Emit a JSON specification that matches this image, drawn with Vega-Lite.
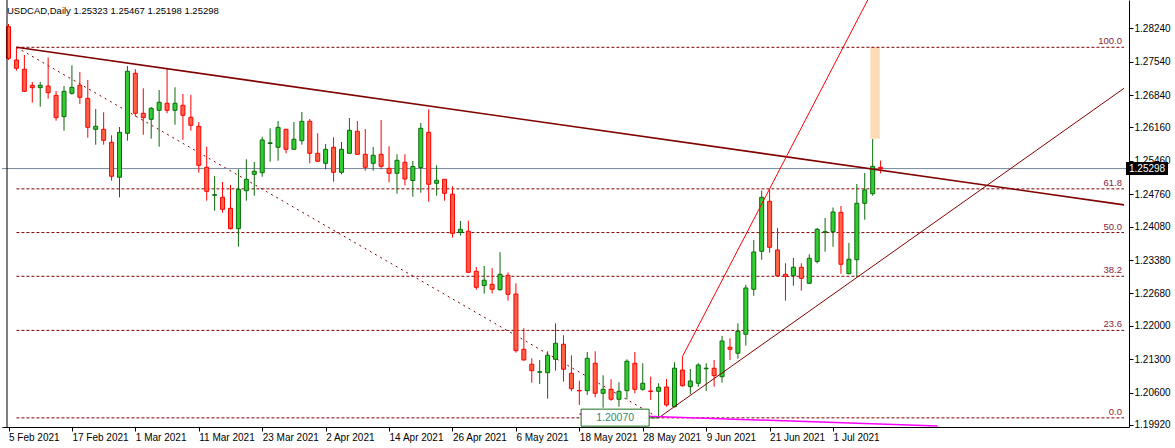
{
"$schema": "https://vega.github.io/schema/vega-lite/v6.json",
"width": 1127, "height": 427,
"autosize": {"type": "none"},
"padding": {"left": 2, "top": 0, "right": 46, "bottom": 21},
"background": "white",
"config": {"view": {"stroke": null}, "axis": {"labelFont": "Liberation Sans", "labelFontSize": 10, "labelColor": "black", "domainColor": "black", "tickColor": "black", "grid": false, "title": null, "labelOverlap": false}},
"title": {"text": "USDCAD,Daily  1.25323 1.25467 1.25198 1.25298", "anchor": "start", "frame": "group", "orient": "top", "offset": -24, "baseline": "alphabetic", "font": "Liberation Sans", "fontSize": 9.5, "fontWeight": "normal", "color": "black", "dx": 5},
"datasets": {
"candles": [
{"i":0,"o":1.28274,"h":1.28331,"l":1.27576,"c":1.27611},
{"i":1,"o":1.27576,"h":1.27842,"l":1.27351,"c":1.27402},
{"i":2,"o":1.27381,"h":1.27681,"l":1.26910,"c":1.26919},
{"i":3,"o":1.27045,"h":1.27114,"l":1.26680,"c":1.26995},
{"i":4,"o":1.26995,"h":1.27114,"l":1.26596,"c":1.27045},
{"i":5,"o":1.27030,"h":1.27632,"l":1.26764,"c":1.26890},
{"i":6,"o":1.26835,"h":1.26926,"l":1.26303,"c":1.26366},
{"i":7,"o":1.26387,"h":1.27030,"l":1.26093,"c":1.26919},
{"i":8,"o":1.26877,"h":1.27464,"l":1.26848,"c":1.27003},
{"i":9,"o":1.27045,"h":1.27324,"l":1.26653,"c":1.26793},
{"i":10,"o":1.26772,"h":1.27156,"l":1.25946,"c":1.26164},
{"i":11,"o":1.26122,"h":1.26548,"l":1.25799,"c":1.26185},
{"i":12,"o":1.26122,"h":1.26479,"l":1.25799,"c":1.25892},
{"i":13,"o":1.25850,"h":1.25996,"l":1.25044,"c":1.25137},
{"i":14,"o":1.25116,"h":1.26170,"l":1.24696,"c":1.26059},
{"i":15,"o":1.26038,"h":1.27450,"l":1.25883,"c":1.27339},
{"i":16,"o":1.27297,"h":1.27381,"l":1.26387,"c":1.26458},
{"i":17,"o":1.26458,"h":1.26982,"l":1.26009,"c":1.26366},
{"i":18,"o":1.26332,"h":1.26584,"l":1.25925,"c":1.26563},
{"i":19,"o":1.26521,"h":1.26946,"l":1.25757,"c":1.26689},
{"i":20,"o":1.26668,"h":1.27387,"l":1.26458,"c":1.26521},
{"i":21,"o":1.26521,"h":1.27003,"l":1.26219,"c":1.26668},
{"i":22,"o":1.26626,"h":1.26863,"l":1.25904,"c":1.26416},
{"i":23,"o":1.26374,"h":1.26842,"l":1.26093,"c":1.26206},
{"i":24,"o":1.26185,"h":1.26275,"l":1.25212,"c":1.25367},
{"i":25,"o":1.25325,"h":1.25757,"l":1.24625,"c":1.24822},
{"i":26,"o":1.24738,"h":1.25143,"l":1.24415,"c":1.24751},
{"i":27,"o":1.24696,"h":1.25017,"l":1.24373,"c":1.24444},
{"i":28,"o":1.24465,"h":1.24954,"l":1.24020,"c":1.24038},
{"i":29,"o":1.24038,"h":1.25283,"l":1.23660,"c":1.24864},
{"i":30,"o":1.24834,"h":1.25493,"l":1.24625,"c":1.25074},
{"i":31,"o":1.25178,"h":1.25436,"l":1.24730,"c":1.25241},
{"i":32,"o":1.25212,"h":1.25967,"l":1.25128,"c":1.25898},
{"i":33,"o":1.25824,"h":1.26143,"l":1.25443,"c":1.25839},
{"i":34,"o":1.25745,"h":1.26296,"l":1.25464,"c":1.26164},
{"i":35,"o":1.26122,"h":1.26130,"l":1.25619,"c":1.25703},
{"i":36,"o":1.25703,"h":1.26275,"l":1.25690,"c":1.25913},
{"i":37,"o":1.25883,"h":1.26485,"l":1.25799,"c":1.26290},
{"i":38,"o":1.26290,"h":1.26338,"l":1.25409,"c":1.25619},
{"i":39,"o":1.25619,"h":1.26038,"l":1.25440,"c":1.25451},
{"i":40,"o":1.25409,"h":1.25814,"l":1.25283,"c":1.25703},
{"i":41,"o":1.25745,"h":1.25954,"l":1.25023,"c":1.25220},
{"i":42,"o":1.25220,"h":1.25856,"l":1.25178,"c":1.25703},
{"i":43,"o":1.25619,"h":1.26359,"l":1.25610,"c":1.26101},
{"i":44,"o":1.26080,"h":1.26296,"l":1.25590,"c":1.25598},
{"i":45,"o":1.25598,"h":1.26129,"l":1.25254,"c":1.25325},
{"i":46,"o":1.25409,"h":1.25751,"l":1.25254,"c":1.25577},
{"i":47,"o":1.25598,"h":1.26317,"l":1.25283,"c":1.25346},
{"i":48,"o":1.25304,"h":1.25766,"l":1.25011,"c":1.25199},
{"i":49,"o":1.25199,"h":1.25598,"l":1.24772,"c":1.25472},
{"i":50,"o":1.25430,"h":1.25598,"l":1.24944,"c":1.25080},
{"i":51,"o":1.25048,"h":1.25457,"l":1.24709,"c":1.25342},
{"i":52,"o":1.25321,"h":1.26254,"l":1.24793,"c":1.26143},
{"i":53,"o":1.26059,"h":1.26542,"l":1.24604,"c":1.24969},
{"i":54,"o":1.24990,"h":1.25367,"l":1.24730,"c":1.25053},
{"i":55,"o":1.25074,"h":1.25080,"l":1.24625,"c":1.24780},
{"i":56,"o":1.24761,"h":1.24927,"l":1.23853,"c":1.23941},
{"i":57,"o":1.23958,"h":1.24199,"l":1.23891,"c":1.24025},
{"i":58,"o":1.23983,"h":1.24205,"l":1.23110,"c":1.23123},
{"i":59,"o":1.23144,"h":1.23234,"l":1.22758,"c":1.22808},
{"i":60,"o":1.22846,"h":1.23255,"l":1.22678,"c":1.22957},
{"i":61,"o":1.22871,"h":1.23209,"l":1.22678,"c":1.22767},
{"i":62,"o":1.22758,"h":1.23545,"l":1.22737,"c":1.23081},
{"i":63,"o":1.23060,"h":1.23123,"l":1.22528,"c":1.22662},
{"i":64,"o":1.22668,"h":1.22892,"l":1.21437,"c":1.21479},
{"i":65,"o":1.21508,"h":1.21949,"l":1.21270,"c":1.21284},
{"i":66,"o":1.21194,"h":1.21319,"l":1.20808,"c":1.21059},
{"i":67,"o":1.21026,"h":1.21284,"l":1.20780,"c":1.21038},
{"i":68,"o":1.21017,"h":1.21466,"l":1.20472,"c":1.21382},
{"i":69,"o":1.21298,"h":1.22053,"l":1.21059,"c":1.21634},
{"i":70,"o":1.21613,"h":1.21802,"l":1.20829,"c":1.21089},
{"i":71,"o":1.21005,"h":1.21382,"l":1.20627,"c":1.20682},
{"i":72,"o":1.20646,"h":1.20850,"l":1.20340,"c":1.20634},
{"i":73,"o":1.20640,"h":1.21451,"l":1.20550,"c":1.21319},
{"i":74,"o":1.21215,"h":1.21466,"l":1.20501,"c":1.20585},
{"i":75,"o":1.20585,"h":1.20963,"l":1.20283,"c":1.20669},
{"i":76,"o":1.20669,"h":1.20879,"l":1.20430,"c":1.20460},
{"i":77,"o":1.20460,"h":1.20816,"l":1.20304,"c":1.20627},
{"i":78,"o":1.20640,"h":1.21298,"l":1.20460,"c":1.21257},
{"i":79,"o":1.21215,"h":1.21451,"l":1.20585,"c":1.20669},
{"i":80,"o":1.20669,"h":1.21215,"l":1.20640,"c":1.20795},
{"i":81,"o":1.20634,"h":1.20934,"l":1.20445,"c":1.20621},
{"i":82,"o":1.20627,"h":1.20795,"l":1.20070,"c":1.20711},
{"i":83,"o":1.20717,"h":1.20885,"l":1.20304,"c":1.20340},
{"i":84,"o":1.20304,"h":1.21236,"l":1.20290,"c":1.21112},
{"i":85,"o":1.21073,"h":1.21353,"l":1.20724,"c":1.20743},
{"i":86,"o":1.20724,"h":1.21095,"l":1.20564,"c":1.20843},
{"i":87,"o":1.20795,"h":1.21215,"l":1.20724,"c":1.21179},
{"i":88,"o":1.21099,"h":1.21215,"l":1.20634,"c":1.21112},
{"i":89,"o":1.21110,"h":1.21284,"l":1.20724,"c":1.20954},
{"i":90,"o":1.20933,"h":1.21787,"l":1.20808,"c":1.21682},
{"i":91,"o":1.21550,"h":1.21739,"l":1.21284,"c":1.21508},
{"i":92,"o":1.21424,"h":1.22053,"l":1.21311,"c":1.21886},
{"i":93,"o":1.21823,"h":1.22863,"l":1.21584,"c":1.22794},
{"i":94,"o":1.22766,"h":1.23801,"l":1.22632,"c":1.23549},
{"i":95,"o":1.23564,"h":1.24834,"l":1.23387,"c":1.24696},
{"i":96,"o":1.24612,"h":1.24864,"l":1.23534,"c":1.23647},
{"i":97,"o":1.23591,"h":1.24052,"l":1.23040,"c":1.23052},
{"i":98,"o":1.23081,"h":1.23312,"l":1.22528,"c":1.23039},
{"i":99,"o":1.23052,"h":1.23423,"l":1.22842,"c":1.23228},
{"i":100,"o":1.23228,"h":1.23312,"l":1.22737,"c":1.22997},
{"i":101,"o":1.22892,"h":1.23501,"l":1.22880,"c":1.23417},
{"i":102,"o":1.23350,"h":1.24052,"l":1.23308,"c":1.24025},
{"i":103,"o":1.23962,"h":1.24262,"l":1.23555,"c":1.23975},
{"i":104,"o":1.23975,"h":1.24482,"l":1.23660,"c":1.24388},
{"i":105,"o":1.24381,"h":1.24514,"l":1.23094,"c":1.23291},
{"i":106,"o":1.23094,"h":1.23738,"l":1.23080,"c":1.23396},
{"i":107,"o":1.23387,"h":1.24975,"l":1.23031,"c":1.24570},
{"i":108,"o":1.24570,"h":1.25206,"l":1.24226,"c":1.24849},
{"i":109,"o":1.24772,"h":1.25919,"l":1.24730,"c":1.25346},
{"i":110,"o":1.25323,"h":1.25467,"l":1.25198,"c":1.25298}
],
"fib": [
{"level":"100.0","price":1.27842},
{"level":"61.8","price":1.24873},
{"level":"50.0","price":1.23956},
{"level":"38.2","price":1.23039},
{"level":"23.6","price":1.21904},
{"level":"0.0","price":1.20070}
],
"lines": [
{"id":"fibdiag","i":1,"p":1.27842},{"id":"fibdiag","i":82,"p":1.20070},
{"id":"down","i":1,"p":1.27842},{"id":"down","i":140.7,"p":1.24537},
{"id":"support","i":82,"p":1.20070},{"id":"support","i":140.7,"p":1.26982},
{"id":"steep","i":85,"p":1.21353},{"id":"steep","i":112,"p":1.29993},
{"id":"magenta","i":72,"p":1.20151},{"id":"magenta","i":117.2,"p":1.19900}
],
"zones": [{"i0":108.7,"i1":109.9,"p0":1.27842,"p1":1.25925}]
},
"layer": [
{"data": {"name": "zones"},
 "mark": {"type": "rect", "color": "#FDDBB8"},
 "encoding": {
  "x": {"field": "i0", "type": "quantitative", "scale": {"domain": [-0.19, 140.7], "nice": false, "zero": false},
        "axis": {"title": null, "values": [0,8,16,24,32,40,48,56,64,72,80,88,96,104], "tickCount": 40, "labelExpr": "['5 Feb 2021','17 Feb 2021','1 Mar 2021','11 Mar 2021','23 Mar 2021','2 Apr 2021','14 Apr 2021','26 Apr 2021','6 May 2021','18 May 2021','28 May 2021','9 Jun 2021','21 Jun 2021','1 Jul 2021'][round(datum.value/8)]", "labelAlign": "left", "labelDx": 1, "labelBaseline": "top", "tickSize": 4, "labelPadding": 1, "labelFlush": false, "labelOverlap": false}},
  "x2": {"field": "i1"},
  "y": {"field": "p0", "type": "quantitative", "scale": {"domain": [1.19878, 1.28834], "nice": false, "zero": false},
        "axis": {"title": null, "orient": "right", "values": [1.1992,1.206,1.213,1.22,1.2268,1.2338,1.2408,1.2476,1.2546,1.2616,1.2684,1.2754,1.2824], "tickCount": 30, "format": ".5f", "tickSize": 4, "labelPadding": 1, "labelBaseline": "middle", "labelOverlap": false, "labelFlush": false}},
  "y2": {"field": "p1"}
 }},
{"data": {"name": "fib"},
 "mark": {"type": "rule", "color": "#800000", "strokeWidth": 1, "strokeDash": [3, 2], "clip": true},
 "encoding": {"x": {"datum": 1}, "x2": {"datum": 140.7}, "y": {"field": "price", "type": "quantitative"}}},
{"data": {"name": "lines"},
 "transform": [{"filter": "datum.id == 'fibdiag'"}],
 "mark": {"type": "line", "color": "#800000", "strokeWidth": 1, "strokeDash": [2, 4], "clip": true},
 "encoding": {"x": {"field": "i", "type": "quantitative"}, "y": {"field": "p", "type": "quantitative"}}},
{"data": {"name": "candles"},
 "transform": [{"filter": "datum.i == 110"}],
 "mark": {"type": "rule", "color": "#778899", "strokeWidth": 1},
 "encoding": {"y": {"field": "c", "type": "quantitative"}}},
{"data": {"name": "candles"},
 "mark": {"type": "rule", "strokeWidth": 1, "clip": true},
 "encoding": {
  "x": {"field": "i", "type": "quantitative"},
  "y": {"field": "l", "type": "quantitative"},
  "y2": {"field": "h"},
  "color": {"condition": {"test": "datum.c >= datum.o", "value": "#0B6B0B"}, "value": "#FF0000"}
 }},
{"data": {"name": "candles"},
 "mark": {"type": "bar", "size": 4, "strokeWidth": 1, "clip": true},
 "encoding": {
  "x": {"field": "i", "type": "quantitative"},
  "y": {"field": "o", "type": "quantitative"},
  "y2": {"field": "c"},
  "fill": {"condition": {"test": "datum.c >= datum.o", "value": "#32CD32"}, "value": "#FF6347"},
  "stroke": {"condition": {"test": "datum.c >= datum.o", "value": "#0B6B0B"}, "value": "#FF0000"}
 }},
{"data": {"name": "lines"},
 "transform": [{"filter": "datum.id == 'down'"}],
 "mark": {"type": "line", "color": "#800000", "strokeWidth": 1.6, "clip": true},
 "encoding": {"x": {"field": "i", "type": "quantitative"}, "y": {"field": "p", "type": "quantitative"}}},
{"data": {"name": "lines"},
 "transform": [{"filter": "datum.id == 'support'"}],
 "mark": {"type": "line", "color": "#800000", "strokeWidth": 1, "clip": true},
 "encoding": {"x": {"field": "i", "type": "quantitative"}, "y": {"field": "p", "type": "quantitative"}}},
{"data": {"name": "lines"},
 "transform": [{"filter": "datum.id == 'steep'"}],
 "mark": {"type": "line", "color": "#FF0000", "strokeWidth": 1, "clip": true},
 "encoding": {"x": {"field": "i", "type": "quantitative"}, "y": {"field": "p", "type": "quantitative"}}},
{"data": {"name": "lines"},
 "transform": [{"filter": "datum.id == 'magenta'"}],
 "mark": {"type": "line", "color": "#FF00FF", "strokeWidth": 1.5, "clip": true},
 "encoding": {"x": {"field": "i", "type": "quantitative"}, "y": {"field": "p", "type": "quantitative"}}},
{"data": {"name": "fib"},
 "mark": {"type": "text", "align": "right", "baseline": "bottom", "dx": -2, "dy": -1, "font": "Liberation Sans", "fontSize": 9.5, "color": "#8B1A3A"},
 "encoding": {"x": {"datum": 140.7}, "y": {"field": "price", "type": "quantitative"}, "text": {"field": "level"}}},
{"data": {"name": "candles"},
 "transform": [{"filter": "datum.i == 82"}],
 "mark": {"type": "point", "shape": "M-7.75,-0.87H-0.95V0.83H-7.75Z M-0.95,0H0", "size": 400, "filled": true, "fill": "white", "stroke": "#1B6E1B", "strokeWidth": 1, "opacity": 1, "fillOpacity": 1},
 "encoding": {"x": {"field": "i", "type": "quantitative"}, "y": {"field": "l", "type": "quantitative"}}},
{"data": {"name": "candles"},
 "transform": [{"filter": "datum.i == 82"}],
 "mark": {"type": "text", "align": "center", "baseline": "middle", "dx": -43.5, "font": "Liberation Sans", "fontSize": 10.5, "color": "#2E8B6E"},
 "encoding": {"x": {"field": "i", "type": "quantitative"}, "y": {"field": "l", "type": "quantitative"}, "text": {"field": "l", "format": ".5f"}}},
{"data": {"name": "candles"},
 "transform": [{"filter": "datum.i == 110"}],
 "mark": {"type": "point", "shape": "M0.2,-0.65H4.4V0.65H0.2Z", "size": 400, "filled": true, "fill": "black", "strokeWidth": 0, "opacity": 1},
 "encoding": {"x": {"datum": 140.7}, "y": {"field": "c", "type": "quantitative"}}},
{"data": {"name": "candles"},
 "transform": [{"filter": "datum.i == 110"}],
 "mark": {"type": "text", "align": "left", "baseline": "middle", "dx": 5, "font": "Liberation Sans", "fontSize": 10, "color": "white"},
 "encoding": {"x": {"datum": 140.7}, "y": {"field": "c", "type": "quantitative"}, "text": {"field": "c", "format": ".5f"}}},
{"data": {"values": [{}]},
 "mark": {"type": "rule", "color": "black", "strokeWidth": 1},
 "encoding": {"x": {"datum": -0.19}}}
]
}
